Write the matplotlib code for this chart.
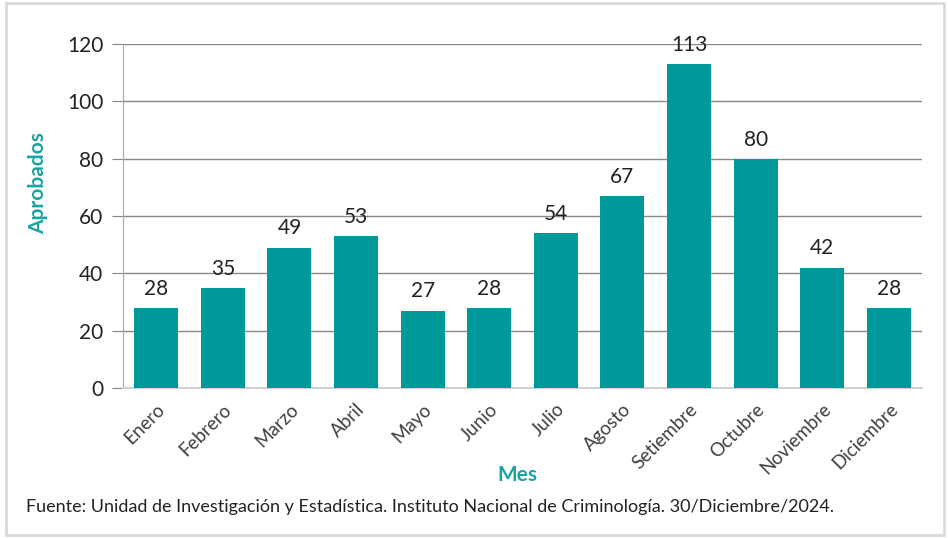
import matplotlib.pyplot as plt
from matplotlib.patches import Rectangle

meses = ['Enero', 'Febrero', 'Marzo', 'Abril', 'Mayo', 'Junio', 'Julio',
         'Agosto', 'Setiembre', 'Octubre', 'Noviembre', 'Diciembre']
aprobados = [28, 35, 49, 53, 27, 28, 54, 67, 113, 80, 42, 28]
y_ticks = [0, 20, 40, 60, 80, 100, 120]

bar_color = '#009999'
label_color = '#1AA3A3'

plt.rcParams['font.family'] = ['Lato', 'DejaVu Sans']

fig = plt.figure(figsize=(9.48, 5.38), dpi=100)
ax = fig.add_axes([0.1297, 0.2788, 0.843, 0.6392])

x = range(len(meses))
bars = ax.bar(x, aprobados, width=0.66, color=bar_color, zorder=3)
for xi, v in zip(x, aprobados):
    ax.text(xi, v + 3.2, str(v), ha='center', va='bottom', fontsize=15, color='#222222')

ax.set_xlim(-0.5, len(meses) - 0.5)
ax.set_ylim(0, 120)
ax.set_yticks(y_ticks)
ax.set_yticklabels([str(t) for t in y_ticks], fontsize=15, color='#222222')
ax.set_xticks(list(x))
ax.set_xticklabels(meses, rotation=45, ha='right', rotation_mode='anchor',
                   fontsize=13.5, color='#404040')
ax.tick_params(axis='x', length=0, pad=9)
ax.tick_params(axis='y', length=8, color='#888888', pad=6)

ax.yaxis.grid(True, color='#888888', linewidth=1)
ax.set_axisbelow(True)
for s in ['top', 'right']:
    ax.spines[s].set_visible(False)
ax.spines['left'].set_color('#AAAAAA')
ax.spines['bottom'].set_color('#D0D0D0')
ax.spines['bottom'].set_linewidth(1.5)

fig.text(0.040, 0.66, 'Aprobados', rotation=90, ha='center', va='center',
         fontsize=15, fontweight='bold', color=label_color)
fig.text(0.546, 0.117, 'Mes', ha='center', va='center',
         fontsize=15, fontweight='bold', color=label_color)
fig.text(0.027, 0.057, 'Fuente: Unidad de Investigación y Estadística. Instituto Nacional de '
         'Criminología. 30/Diciembre/2024.', ha='left', va='center', fontsize=13,
         color='#222222')

fig.patches.append(Rectangle((0.006, 0.005), 0.99, 0.99, transform=fig.transFigure,
                             fill=False, edgecolor='#D9D9D9', linewidth=2))

fig.savefig('out.png', dpi=100)
